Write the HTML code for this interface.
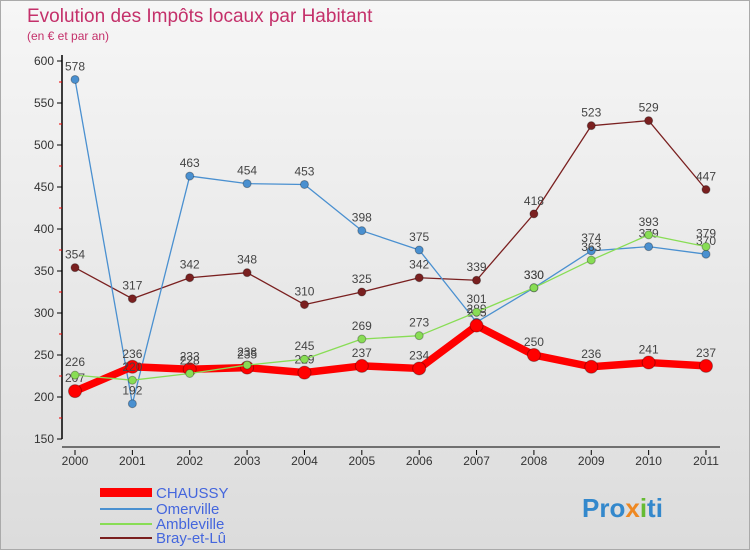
<!DOCTYPE html>
<html><head><meta charset="utf-8"><style>
body{margin:0;width:750px;height:550px;overflow:hidden;font-family:"Liberation Sans",sans-serif}
</style></head><body>
<svg id="c" width="750" height="550" xmlns="http://www.w3.org/2000/svg">
<defs><linearGradient id="bg" x1="0" y1="0" x2="0" y2="1"><stop offset="0" stop-color="#f6f6f6"/><stop offset="1" stop-color="#dcdcdc"/></linearGradient></defs>
<rect x="0.5" y="0.5" width="749" height="549" fill="url(#bg)" stroke="#aaa"/>
<text x="27" y="22" font-size="19" fill="#c4306a">Evolution des Impôts locaux par Habitant</text>
<text x="27" y="40" font-size="12" fill="#c4306a">(en € et par an)</text>
<g id="axes"></g><g id="series"></g>
<g>
<rect x="100" y="488" width="52" height="9" fill="#f00"/>
<text x="156" y="498" font-size="15" fill="#4466dd">CHAUSSY</text>
<line x1="100" y1="509" x2="152" y2="509" stroke="#4a90d0" stroke-width="2"/>
<text x="156" y="514" font-size="15" fill="#4466dd">Omerville</text>
<line x1="100" y1="524" x2="152" y2="524" stroke="#88dd55" stroke-width="2"/>
<text x="156" y="529" font-size="15" fill="#4466dd">Ambleville</text>
<line x1="100" y1="538" x2="152" y2="538" stroke="#7a2020" stroke-width="2"/>
<text x="156" y="543" font-size="15" fill="#4466dd">Bray-et-Lû</text>
</g>
<text x="582" y="517" font-size="26" font-weight="bold" fill="#3388cc">Pro<tspan fill="#ee8822">x</tspan><tspan fill="#66bb33">i</tspan>ti</text>
</svg>
<script>
const years=["2000","2001","2002","2003","2004","2005","2006","2007","2008","2009","2010","2011"];
const yTicks=[150,200,250,300,350,400,450,500,550,600];
const chaussy=[207,236,233,235,229,237,234,285,250,236,241,237];
const omerville=[578,192,463,454,453,398,375,289,330,374,379,370];
const ambleville=[226,220,228,238,245,269,273,301,330,363,393,379];
const bray=[354,317,342,348,310,325,342,339,418,523,529,447];
const NS="http://www.w3.org/2000/svg";
const X=i=>75+i*(706-75)/(years.length-1);
const Y=v=>439-(v-150)*(439-61)/450;
function mk(t,a,p){const e=document.createElementNS(NS,t);for(const k in a)e.setAttribute(k,a[k]);p.appendChild(e);return e;}
const ax=document.getElementById('axes'),sg=document.getElementById('series');
const yl=mk('line',{x1:62,y1:55,x2:62,y2:439,stroke:'#000','stroke-width':1.5},ax);


const xl=mk('line',{x1:62,y1:447,x2:720,y2:447,stroke:'#000','stroke-width':1},ax);


yTicks.forEach((v,i)=>{
 mk('line',{x1:57,y1:Y(v),x2:62,y2:Y(v),stroke:'#000'},ax);
 if(i<yTicks.length-1)mk('line',{x1:59,y1:Y(v+25),x2:62,y2:Y(v+25),stroke:'#e00'},ax);
 const t=mk('text',{x:54,y:Y(v)+4,'font-size':12,'text-anchor':'end',fill:'#333'},ax);t.textContent=v;
 
 
});
years.forEach((y,i)=>{
 mk('line',{x1:X(i),y1:450,x2:X(i),y2:455,stroke:'#000'},ax);
 const t=mk('text',{x:X(i),y:465,'font-size':12,'text-anchor':'middle',fill:'#333'},ax);t.textContent=y;
 
 
});
function series(d,col,w,r,name){
 const g=mk('g',{},sg);
 
 
 const p=mk('polyline',{points:d.map((v,i)=>X(i)+','+Y(v)).join(' '),fill:'none',stroke:col,'stroke-width':w,'stroke-linejoin':'round'},g);
 
 
 d.forEach((v,i)=>{
  const c=mk('circle',{cx:X(i),cy:Y(v),r:r,fill:col,stroke:'rgba(0,0,0,0.3)'},g);
  
  
  const t=mk('text',{x:X(i),y:Y(v)-9,'font-size':12,'text-anchor':'middle',fill:'#444'},g);t.textContent=v;
  
  
 });
}
series(bray,'#7a2020',1.3,4,'bray');
series(omerville,'#4a90d0',1.3,4,'omerville');
series(chaussy,'#f00',7.5,6.5,'chaussy');
series(ambleville,'#88dd55',1.3,4,'ambleville');
</script>
</body></html>
